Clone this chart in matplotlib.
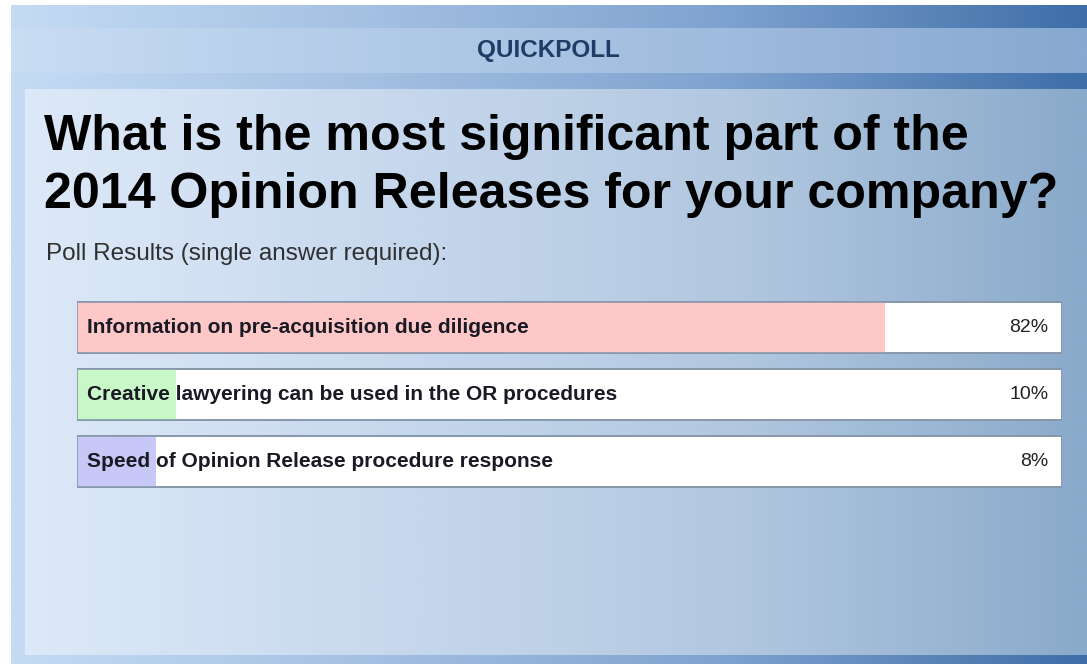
import numpy as np
import matplotlib
matplotlib.use("Agg")
import matplotlib.pyplot as plt
from matplotlib.colors import LinearSegmentedColormap

# ---- data ----
header = "QUICKPOLL"
question = "What is the most significant part of the\n2014 Opinion Releases for your company?"
subtitle = "Poll Results (single answer required):"
answers = [
    "Information on pre-acquisition due diligence",
    "Creative lawyering can be used in the OR procedures",
    "Speed of Opinion Release procedure response",
]
percents = [82, 10, 8]
bar_colors = ["#ffc8c8", "#c8f8c8", "#c8c8f8"]

W, H = 1087, 664
fig = plt.figure(figsize=(W / 100, H / 100), dpi=100)
fig.patch.set_facecolor("white")

bg = fig.add_axes([0, 0, 1, 1])
bg.set_xlim(0, W)
bg.set_ylim(H, 0)
bg.axis("off")

grad = np.linspace(0, 1, 512).reshape(1, -1)

def hgrad(x0, x1, y0, y1, colors, z=0):
    cmap = LinearSegmentedColormap.from_list("g", colors)
    bg.imshow(grad, cmap=cmap, extent=(x0, x1, y1, y0), aspect="auto",
              interpolation="bilinear", zorder=z)

# outer frame
hgrad(11, W, 5, H, ["#c4dbf3", "#a4c0e2", "#7ea2cf", "#3e6ea8"], z=0)
# header band
hgrad(11, W, 28, 73, ["#c9ddf3", "#b2cbe8", "#9fbbdd", "#87a8d0"], z=1)
# inner panel
hgrad(25, W, 89, 655, ["#dde9f8", "#c8d9ee", "#b2c8e0", "#8aaacb"], z=2)
bg.set_xlim(0, W)
bg.set_ylim(H, 0)

bg.text(548, 51, header, ha="center", va="center", fontsize=17.5,
        fontweight="bold", color="#1d3c66", family="Liberation Sans", zorder=5)
bg.text(44, 166, question, ha="left", va="center", fontsize=36.1,
        fontweight="bold", color="#000000", family="Liberation Sans",
        linespacing=1.32, zorder=5)
bg.text(46, 254, subtitle, ha="left", va="center", fontsize=17.5,
        color="#303030", family="Liberation Sans", zorder=5)

# ---- bars ----
x0, x1 = 77, 1062
y_top, y_bot = 301, 488
ax = fig.add_axes([x0 / W, 1 - y_bot / H, (x1 - x0) / W, (y_bot - y_top) / H])
ax.set_zorder(3)
ax.patch.set_alpha(0)
pos = np.arange(len(answers))
h = 52 / 67.5
ax.barh(pos, [100] * len(answers), height=h, color="white",
        edgecolor="#8797ab", linewidth=1.2, zorder=1)
ax.barh(pos, percents, height=h, color=bar_colors, linewidth=0, zorder=2)
ax.barh(pos, [100] * len(answers), height=h, fill=False,
        edgecolor="#8797ab", linewidth=1.2, zorder=3)
ax.set_xlim(0, 100)
ax.set_ylim(len(answers) - 1 + h / 2 + 0.01, -h / 2 - 0.01)
ax.axis("off")
for i, (a, p) in enumerate(zip(answers, percents)):
    ax.text(1.0, i, a, ha="left", va="center", fontsize=15,
            fontweight="bold", color="#1a1a24", family="Liberation Sans", zorder=4)
    ax.text(98.6, i, f"{p}%", ha="right", va="center", fontsize=14,
            color="#222222", family="Liberation Sans", zorder=4)

fig.savefig("out.png", dpi=100)
